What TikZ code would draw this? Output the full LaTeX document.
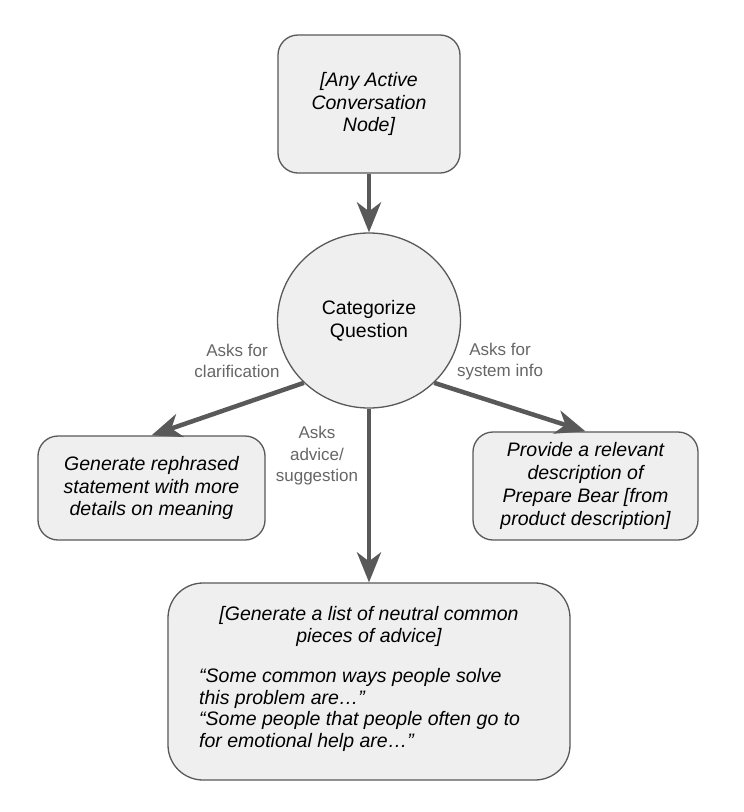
\documentclass[tikz,border=0pt]{standalone}
\usepackage{fontspec}
\setmainfont{Liberation Sans}
\usetikzlibrary{arrows.meta,shapes.geometric}
\definecolor{boxfill}{HTML}{EFEFEF}
\definecolor{edgegray}{HTML}{595959}
\definecolor{labelgray}{HTML}{666666}
\tikzset{
  boxnode/.style={draw=edgegray, fill=boxfill, line width=1.3pt, rounded corners=20pt,
    inner sep=0pt, align=center, font=\fontsize{19.5}{22.8}\selectfont\itshape},
  circnode/.style={draw=edgegray, fill=boxfill, line width=1.3pt, ellipse, inner sep=0pt,
    minimum width=183pt, minimum height=175pt, align=center, font=\fontsize{19.5}{22.8}\selectfont},
  edgelabel/.style={text=labelgray, align=center, inner sep=0pt, font=\fontsize{17}{21.5}\selectfont},
  flow/.style={draw=edgegray, line width=4.5pt, -{Stealth[length=30pt, width=24pt, inset=9pt]}},
  bodytext/.style={inner sep=0pt, font=\fontsize{19.5}{21.5}\selectfont\itshape}
}
\begin{document}
\begin{tikzpicture}[x=1pt, y=-1pt]
\useasboundingbox (0,0) rectangle (744,812);
\fill[white] (0,0) rectangle (744,812);

\node[boxnode, minimum width=182pt, minimum height=138pt] (top) at (369,104)
  {[Any Active\\Conversation\\Node]};
\node[circnode] (cq) at (369,320.5) {Categorize\\Question};
\node[boxnode, minimum width=227pt, minimum height=104pt] (lb) at (151.5,488)
  {Generate rephrased\\statement with more\\details on meaning};
\node[boxnode, minimum width=225pt, minimum height=108pt] (rb) at (585.5,486)
  {Provide a relevant\\description of\\Prepare Bear [from\\product description]};
\node[boxnode, rounded corners=35pt, minimum width=402pt, minimum height=197pt] (bb) at (369,681.5) {};
\node[bodytext, align=center] (bbhead) at (369,626.5)
  {[Generate a list of neutral common\\pieces of advice]};
\node[bodytext, align=left, anchor=west] (bbbody) at (199,710)
  {“Some common ways people solve\\this problem are…”\\“Some people that people often go to\\for emotional help are…”};

\node[edgelabel] (l1) at (237,361) {Asks for\\clarification};
\node[edgelabel] (l2) at (317,456) {Asks\\advice/\\suggestion};
\node[edgelabel] (l3) at (500,361.5) {Asks for\\system info};

\draw[flow] (top.south) -- (cq.north);
\draw[flow] (cq.south west) -- (lb.north);
\draw[flow] (cq.south east) -- (rb.north);
\draw[flow] (cq.south) -- (bb.north);
\end{tikzpicture}
\end{document}
